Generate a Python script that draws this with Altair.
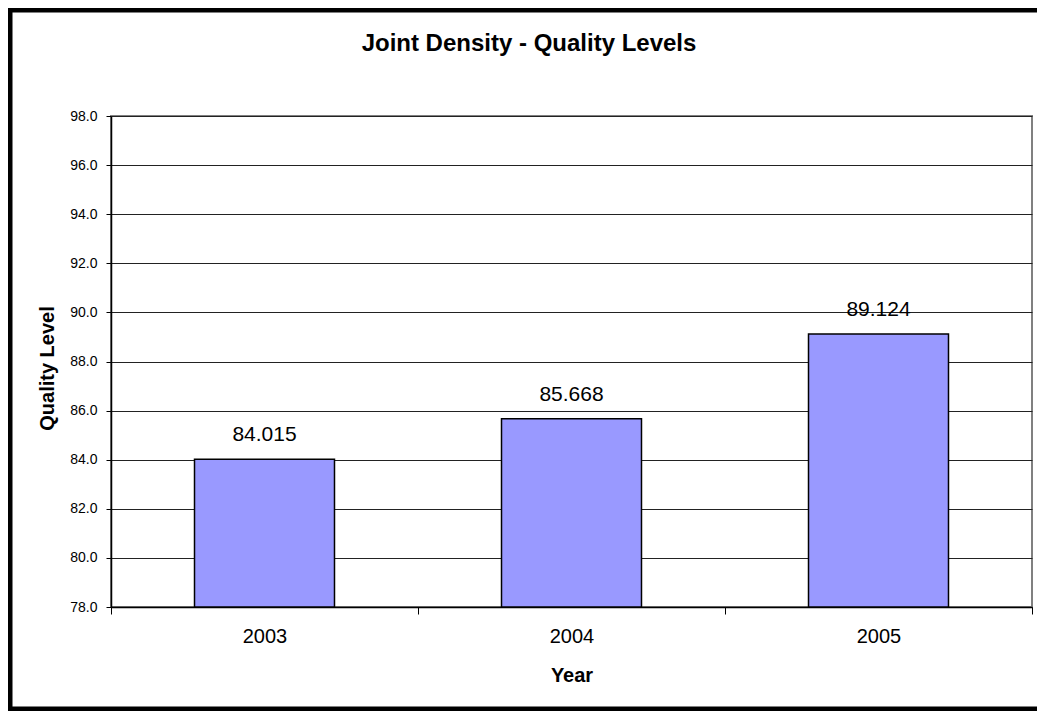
import altair as alt
import pandas as pd

years = ["2003", "2004", "2005"]
quality = [84.015, 85.668, 89.124]
title_text = ["Joint Density - Quality Levels"]
y_min = 78

df = pd.DataFrame({"Year": years, "Quality": quality})
FONT = "Liberation Sans"

base = alt.Chart(df)

x_enc = alt.X(
    "Year:N",
    sort=years,
    scale=alt.Scale(paddingInner=0, paddingOuter=0),
    axis=alt.Axis(
        title="Year",
        titleFont=FONT,
        titleFontSize=20,
        titleFontWeight="bold",
        titleColor="black",
        titleX=460.5,
        titleY=74,
        titleBaseline="alphabetic",
        labelFont=FONT,
        labelFontSize=20,
        labelColor="black",
        labelAngle=0,
        labelBaseline="alphabetic",
        labelPadding=28,
        tickBand="extent",
        tickSize=7,
        tickColor="black",
        domainColor="black",
        domainWidth=1.5,
        grid=False,
    ),
)

y_enc = alt.Y(
    "Quality:Q",
    scale=alt.Scale(domain=[78, 98], nice=False, zero=False),
    axis=alt.Axis(
        title="Quality Level",
        titleFont=FONT,
        titleFontSize=20,
        titleFontWeight="bold",
        titleColor="black",
        titleAngle=-90,
        titleX=-64,
        titleY=252,
        titleAlign="center",
        titleBaseline="middle",
        values=list(range(78, 99, 2)),
        format=".1f",
        labelFont=FONT,
        labelFontSize=14,
        labelColor="black",
        labelPadding=9,
        tickSize=5,
        tickColor="black",
        domainColor="black",
        domainWidth=1.5,
        grid=True,
        gridColor="#222222",
        gridWidth=1,
    ),
)

bars = base.mark_bar(
    width={"band": 0.456}, color="#9999FF", stroke="black", strokeWidth=1.5
).encode(x=x_enc, y=y_enc, y2=alt.datum(y_min))

labels = base.mark_text(
    font=FONT, fontSize=21, color="black", baseline="alphabetic", dy=-18
).encode(
    x=alt.X("Year:N", sort=years),
    y=alt.Y("Quality:Q"),
    text=alt.Text("Quality:Q", format=".3f"),
)

title = alt.Chart(pd.DataFrame({"t": title_text})).mark_text(
    font=FONT, fontSize=24, fontWeight="bold", color="black", baseline="alphabetic"
).encode(text="t:N", x=alt.value(418), y=alt.value(-65))

frame = alt.Chart(pd.DataFrame({"a": [0]})).mark_rect(
    fill=None, stroke="black", strokeWidth=5
).encode(x=alt.value(-101), x2=alt.value(945), y=alt.value(-106), y2=alt.value(593))

chart = (
    alt.layer(bars, labels, title, frame)
    .properties(
        width=921,
        height=491,
        autosize=alt.AutoSizeParams(type="none"),
        padding={"left": 103, "top": 108, "right": 5, "bottom": 104},
        background="white",
    )
    .configure_view(stroke="#808080", strokeWidth=2)
)

chart.save("out.html", embed_options={"renderer": "svg", "actions": False})
